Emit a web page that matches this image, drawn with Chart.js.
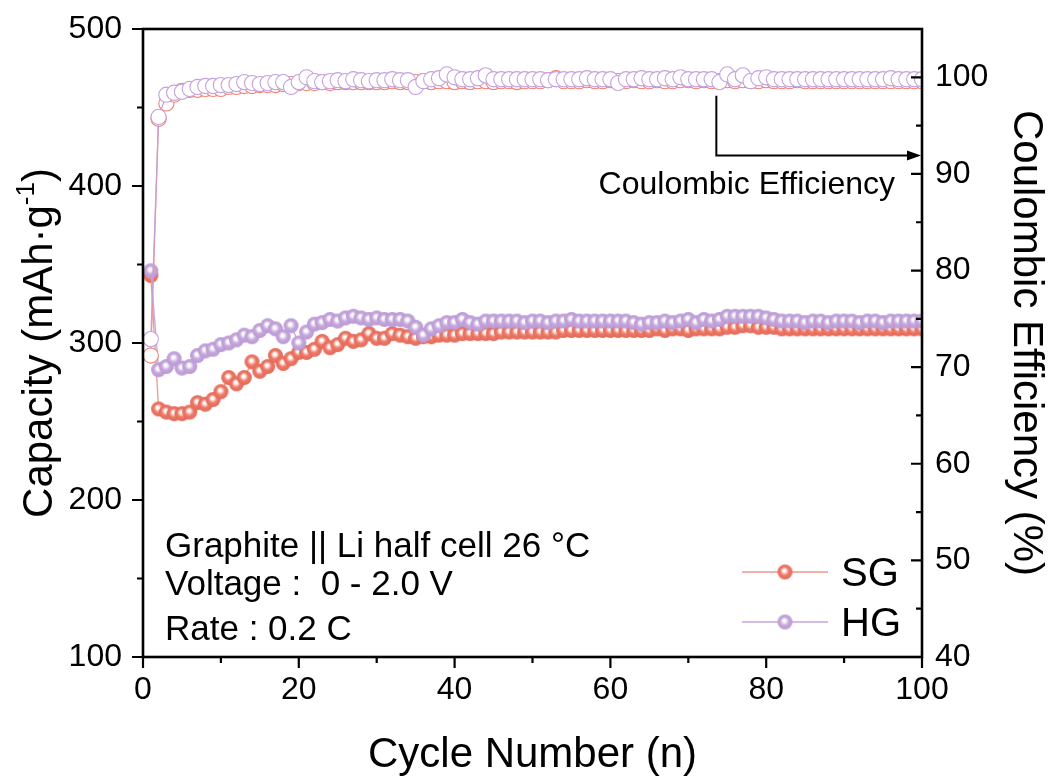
<!DOCTYPE html>
<html><head><meta charset="utf-8">
<script src="https://cdn.jsdelivr.net/npm/chart.js@4/dist/chart.umd.min.js"></script>
<style>html,body{margin:0;padding:0;background:#fff;overflow:hidden}</style>
</head><body>
<canvas id="c" width="1052" height="778" style="width:1052px;height:778px;display:block"></canvas>
<script>
const cycles = [1,2,3,4,5,6,7,8,9,10,11,12,13,14,15,16,17,18,19,20,21,22,23,24,25,26,27,28,29,30,31,32,33,34,35,36,37,38,39,40,41,42,43,44,45,46,47,48,49,50,51,52,53,54,55,56,57,58,59,60,61,62,63,64,65,66,67,68,69,70,71,72,73,74,75,76,77,78,79,80,81,82,83,84,85,86,87,88,89,90,91,92,93,94,95,96,97,98,99,100];
const sgCapacity = [343,258,256,255,255,256,262,261,264,269, 278,274,278,288,282,285,292,287,290,294, 294,296,301,297,299,303,301,302,306,303, 303,306,305,304,303,304,304,305,305,305, 306,306,306,306,306,307,307,307,307,307, 307,307,307,308,308,308,308,308,308,308, 308,308,308,308,308,309,308,309,309,308, 309,309,309,309,310,310,311,311,310,310, 310,309,309,309,309,309,309,309,309,309, 309,309,309,309,309,309,309,309,309,309];
const hgCapacity = [346,283,285,290,284,285,292,295,296,299, 300,302,305,304,308,311,309,304,311,300, 307,312,313,315,314,316,317,316,315,316, 315,315,315,314,310,305,309,311,313,313, 315,313,312,314,314,314,314,314,313,314, 314,313,314,314,315,314,314,314,314,314, 314,314,313,312,313,313,314,313,314,315, 313,315,314,315,317,317,317,317,317,316, 315,314,314,314,313,314,314,313,314,314, 314,313,314,314,313,314,314,314,314,314];
const sgCE = [71.2,95.7,97.3,98.2,98.6,98.7,98.7,98.8,98.8,98.8, 99.0,99.0,99.1,99.1,99.2,99.2,99.2,99.3,99.3,99.4, 99.4,99.4,99.5,99.4,99.5,99.5,99.5,99.5,99.5,99.5, 99.5,99.6,99.5,99.5,99.5,99.6,99.5,99.6,99.6,99.5, 99.6,99.5,99.6,99.6,99.5,99.6,99.6,99.5,99.6,99.6, 99.6,99.7,99.9,99.6,99.6,99.6,99.7,99.6,99.6,99.7, 99.6,99.6,99.7,99.6,99.6,99.7,99.6,99.6,99.7,99.7, 99.6,99.7,99.6,99.6,99.7,99.6,99.7,99.6,99.6,99.7, 99.6,99.6,99.6,99.7,99.6,99.6,99.6,99.6,99.6,99.6, 99.6,99.6,99.6,99.6,99.6,99.6,99.6,99.6,99.6,99.6];
const hgCE = [72.9,95.9,98.2,98.4,98.5,98.8,99.0,99.1,99.1,99.2, 99.2,99.3,99.5,99.4,99.3,99.4,99.5,99.5,99.0,99.5, 100.0,99.6,99.5,99.6,99.7,99.6,99.8,99.7,99.6,99.7, 99.7,99.8,99.7,99.7,99.0,99.6,99.8,99.9,100.3,100.0, 99.8,99.8,99.9,100.2,99.8,99.8,99.8,99.8,99.8,99.8, 99.8,99.7,99.8,99.8,99.8,99.8,99.9,99.8,99.8,99.8, 99.4,99.8,99.8,99.9,99.8,99.8,99.9,99.8,100.0,99.8, 99.8,99.8,99.8,99.5,100.3,99.8,100.2,99.6,99.9,100.0, 99.8,99.8,99.8,99.8,99.8,99.8,99.8,99.8,99.8,99.8, 99.8,99.8,99.8,99.8,99.8,99.9,99.8,99.8,99.8,99.8];
const seriesNames = ['SG', 'HG'];
const xTicks = [0,20,40,60,80,100];
const annotationLines = ['Graphite || Li half cell 26 \u00B0C', 'Voltage :  0 - 2.0 V', 'Rate : 0.2 C'];

const FONT = "'Liberation Sans', Arial, sans-serif";
const SG_COL = 'rgb(238,122,104)', SG_DARK = 'rgb(226,104,88)', SG_LINE = 'rgba(240,140,125,0.9)';
const HG_COL = 'rgb(198,168,220)', HG_DARK = 'rgb(186,152,212)', HG_LINE = 'rgba(196,160,220,0.95)';

function makeSphere(base, dark, r) {
  const c = document.createElement('canvas');
  const s = Math.ceil(r * 2 + 2);
  c.width = c.height = s;
  const g = c.getContext('2d');
  const cx = s / 2, cy = s / 2;
  const grad = g.createRadialGradient(cx - r * 0.12, cy - r * 0.22, 0, cx, cy, r);
  grad.addColorStop(0, '#ffffff');
  grad.addColorStop(0.18, 'rgba(255,255,255,0.95)');
  grad.addColorStop(0.55, base);
  grad.addColorStop(1, dark);
  g.fillStyle = grad;
  g.beginPath(); g.arc(cx, cy, r, 0, Math.PI * 2); g.fill();
  return c;
}
const sgSphere = makeSphere(SG_COL, SG_DARK, 7.5);
const hgSphere = makeSphere(HG_COL, HG_DARK, 7.5);

const decor = {
  id: 'decor',
  afterDraw(chart) {
    const ctx = chart.ctx;
    const a = chart.chartArea;
    const xs = chart.scales.x, yl = chart.scales.y, yr = chart.scales.y1;
    ctx.save();
    ctx.strokeStyle = '#000';
    ctx.lineCap = 'butt';
    // ticks
    ctx.lineWidth = 2.2;
    ctx.beginPath();
    for (let v = 0; v <= 100; v += 10) {
      const px = xs.getPixelForValue(v);
      const len = v % 20 === 0 ? 11 : 6;
      ctx.moveTo(px, a.bottom); ctx.lineTo(px, a.bottom + len);
    }
    for (let v = 100; v <= 500; v += 50) {
      const py = yl.getPixelForValue(v);
      const len = v % 100 === 0 ? 11 : 6;
      ctx.moveTo(a.left, py); ctx.lineTo(a.left - len, py);
    }
    for (let v = 40; v <= 100; v += 5) {
      const py = yr.getPixelForValue(v);
      const len = v % 10 === 0 ? 11 : 6;
      ctx.moveTo(a.right, py); ctx.lineTo(a.right - len, py);
    }
    ctx.stroke();
    // frame
    ctx.lineWidth = 2.6;
    ctx.strokeRect(a.left, a.top, a.right - a.left, a.bottom - a.top);

    // arrow annotation (data units)
    const ax = xs.getPixelForValue(73.6);
    const ay0 = yr.getPixelForValue(98.1);
    const ay1 = yr.getPixelForValue(91.9);
    const tipX = a.right - 1;
    ctx.lineWidth = 2;
    ctx.beginPath();
    ctx.moveTo(ax, ay0); ctx.lineTo(ax, ay1); ctx.lineTo(tipX - 12, ay1);
    ctx.stroke();
    ctx.fillStyle = '#000';
    ctx.beginPath();
    ctx.moveTo(tipX, ay1); ctx.lineTo(tipX - 14, ay1 - 5); ctx.lineTo(tipX - 14, ay1 + 5); ctx.closePath();
    ctx.fill();

    ctx.fillStyle = '#000';
    ctx.textBaseline = 'alphabetic';
    ctx.font = '32px ' + FONT;
    ctx.textAlign = 'right';
    ctx.fillText('Coulombic Efficiency', 895, 194);

    // text block
    ctx.textAlign = 'left';
    ctx.font = '35px ' + FONT;
    ctx.fillText(annotationLines[0], 165, 557);
    ctx.fillText(annotationLines[1], 165, 595);
    ctx.fillText(annotationLines[2], 165, 640);

    // legend
    const leg = [[SG_LINE, sgSphere, 572, seriesNames[0], 586], [HG_LINE, hgSphere, 622, seriesNames[1], 636]];
    ctx.font = '40px ' + FONT;
    for (const [lc, sph, ly, name, by] of leg) {
      ctx.strokeStyle = lc; ctx.lineWidth = 1.6;
      ctx.beginPath(); ctx.moveTo(742, ly); ctx.lineTo(828, ly); ctx.stroke();
      ctx.drawImage(sph, 785 - sph.width / 2, ly - sph.height / 2);
      ctx.fillText(name, 841, by);
    }

    // axis titles
    ctx.font = '42px ' + FONT;
    ctx.textAlign = 'center';
    ctx.textBaseline = 'alphabetic';
    ctx.fillText('Cycle Number (n)', (a.left + a.right) / 2, 767);

    // left title with superscript
    const midY = (a.top + a.bottom) / 2;
    ctx.save();
    ctx.translate(52, midY);
    ctx.rotate(-Math.PI / 2);
    const main = 'Capacity (mAh\u00B7g';
    ctx.font = '42px ' + FONT;
    const w1 = ctx.measureText(main).width;
    ctx.font = '26px ' + FONT;
    const w2 = ctx.measureText('-1').width;
    ctx.font = '42px ' + FONT;
    const w3 = ctx.measureText(')').width;
    let sx = -(w1 + w2 + w3) / 2;
    ctx.textAlign = 'left';
    ctx.fillText(main, sx, 0);
    ctx.font = '26px ' + FONT;
    ctx.fillText('-1', sx + w1, -18);
    ctx.font = '42px ' + FONT;
    ctx.fillText(')', sx + w1 + w2, 0);
    ctx.restore();

    ctx.save();
    ctx.translate(1014, midY);
    ctx.rotate(Math.PI / 2);
    ctx.textAlign = 'center';
    ctx.font = '42px ' + FONT;
    ctx.fillText('Coulombic Efficiency (%)', 0, 0);
    ctx.restore();
    ctx.restore();
  }
};

const tickFont = { family: FONT, size: 32 };
const noPad = s => { s.paddingTop = 0; s.paddingBottom = 0; };

new Chart(document.getElementById('c'), {
  type: 'line',
  data: {
    labels: cycles,
    datasets: [
      { label: seriesNames[1] + ' CE', data: hgCE, yAxisID: 'y1', order: 0,
        borderColor: HG_LINE, borderWidth: 1.3, pointStyle: 'circle', pointRadius: 7.6,
        pointBackgroundColor: '#fff', pointBorderColor: 'rgb(196,160,222)', pointBorderWidth: 1.1 },
      { label: seriesNames[0] + ' CE', data: sgCE, yAxisID: 'y1', order: 1,
        borderColor: SG_LINE, borderWidth: 1.3, pointStyle: 'circle', pointRadius: 7.6,
        pointBackgroundColor: '#fff', pointBorderColor: 'rgb(240,130,115)', pointBorderWidth: 1.1 },
      { label: seriesNames[1], data: hgCapacity, yAxisID: 'y', order: 2,
        borderColor: HG_LINE, borderWidth: 1.3, pointStyle: hgSphere, pointRadius: 7 },
      { label: seriesNames[0], data: sgCapacity, yAxisID: 'y', order: 3,
        borderColor: SG_LINE, borderWidth: 1.3, pointStyle: sgSphere, pointRadius: 7 }
    ]
  },
  options: {
    responsive: false,
    animation: false,
    devicePixelRatio: 1,
    layout: { autoPadding: false, padding: { top: 29, left: 0, right: 0, bottom: 0 } },
    plugins: { legend: { display: false }, tooltip: { enabled: false } },
    elements: { line: { tension: 0 } },
    scales: {
      x: {
        type: 'linear', position: 'bottom', min: 0, max: 100,
        grid: { display: false, drawTicks: false }, border: { display: false },
        ticks: { stepSize: 20, font: tickFont, color: '#000', padding: 14, maxRotation: 0,
          callback: v => xTicks.includes(v) ? String(v) : '' },
        afterFit: s => { s.height = 121; s.paddingLeft = 0; s.paddingRight = 0; }
      },
      y: {
        type: 'linear', position: 'left', min: 100, max: 500,
        grid: { display: false, drawTicks: false }, border: { display: false },
        ticks: { stepSize: 100, font: tickFont, color: '#000', padding: 21 },
        afterFit: s => { s.width = 143; noPad(s); }
      },
      y1: {
        type: 'linear', position: 'right', min: 40, max: 105,
        grid: { display: false, drawTicks: false }, border: { display: false },
        ticks: { stepSize: 10, includeBounds: false, font: tickFont, color: '#000', padding: 13 },
        afterFit: s => { s.width = 130; noPad(s); }
      }
    }
  },
  plugins: [decor]
});
</script>
</body></html>
